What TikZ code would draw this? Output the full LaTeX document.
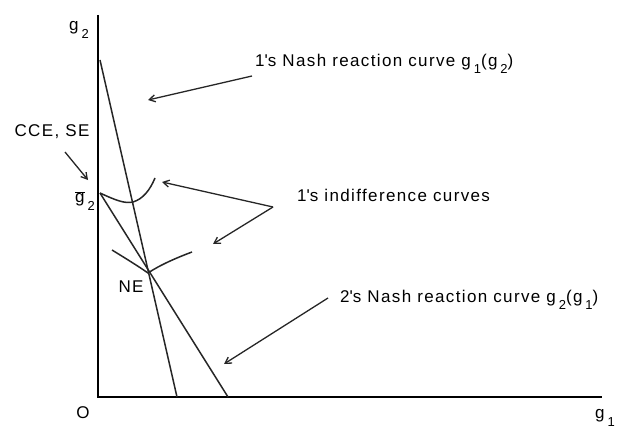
\documentclass[tikz,border=0pt]{standalone}
\usepackage{fontspec}
\setmainfont{Liberation Sans}[LetterSpace=8]
\usetikzlibrary{arrows.meta}
\newcommand\lowsub[1]{\,\raisebox{-0.45em}{\fontsize{13}{14}\selectfont #1}}
\newcommand\ap{\textquotesingle}
\tikzset{
  ax/.style={line width=1.7pt, black},
  curve/.style={line width=1.5pt, black!85},
  ptr/.style={line width=1.3pt, black!85, -{Straight Barb[length=6pt,width=7pt]}},
  lbl/.style={font=\fontsize{17}{19}\selectfont, inner sep=0pt, anchor=west},
  tag/.style={font=\fontsize{17}{19}\selectfont, inner sep=0pt}
}
\begin{document}
\begin{tikzpicture}[x=1pt,y=-1pt]
\useasboundingbox (0,0) rectangle (619,428);
% axes
\coordinate (O) at (98,397);
\coordinate (ytop) at (98,15);
\coordinate (xend) at (602,397);
\draw[ax] (ytop) -- (O) -- (xend);
% reaction curves
\coordinate (r1a) at (100,60);
\coordinate (r1b) at (177,397);
\coordinate (gbar) at (100,193);
\coordinate (r2b) at (228,397);
\draw[curve] (r1a) -- (r1b);
\draw[curve] (gbar) -- (r2b);
% indifference curves
\coordinate (ne) at (148,273);
\draw[curve] (gbar) .. controls (115,200) and (125,204) .. (133,202)
   .. controls (143,199) and (150,190) .. (155,178);
\draw[curve] (112,250) .. controls (125,258) and (138,266) .. (ne)
   .. controls (160,265) and (176,258) .. (192,252);
% labels
\node[tag] (g2lab) at (79,30) {g\lowsub{2}};
\node[tag] (g1lab) at (605,418) {g\lowsub{1}};
\node[tag] (olab) at (83,413) {O};
\node[tag] (nelab) at (131,287) {NE};
\node[tag] (gbarlab) at (85,201) {$\overline{\mbox{g}}$\lowsub{2}};
\node[tag] (cce) at (52,132) {CCE, SE};
\node[lbl] (t1) at (255,64) {1\ap s Nash reaction curve g\lowsub{1}(g\lowsub{2})};
\node[lbl] (t2) at (297,195) {1\ap s indifference curves};
\node[lbl] (t3) at (340,300) {2\ap s Nash reaction curve g\lowsub{2}(g\lowsub{1})};
% pointer arrows
\coordinate (p1s) at (252,76);  \coordinate (p1e) at (148,100);
\coordinate (p2s) at (65,152);  \coordinate (p2e) at (88,180);
\coordinate (p3s) at (273,207); \coordinate (p3e) at (162,182);
\coordinate (p4e) at (213,244);
\coordinate (p5s) at (328,298); \coordinate (p5e) at (224,364);
\draw[ptr] (p1s) -- (p1e);
\draw[ptr] (p2s) -- (p2e);
\draw[ptr] (p3s) -- (p3e);
\draw[ptr] (p3s) -- (p4e);
\draw[ptr] (p5s) -- (p5e);
\end{tikzpicture}
\end{document}
